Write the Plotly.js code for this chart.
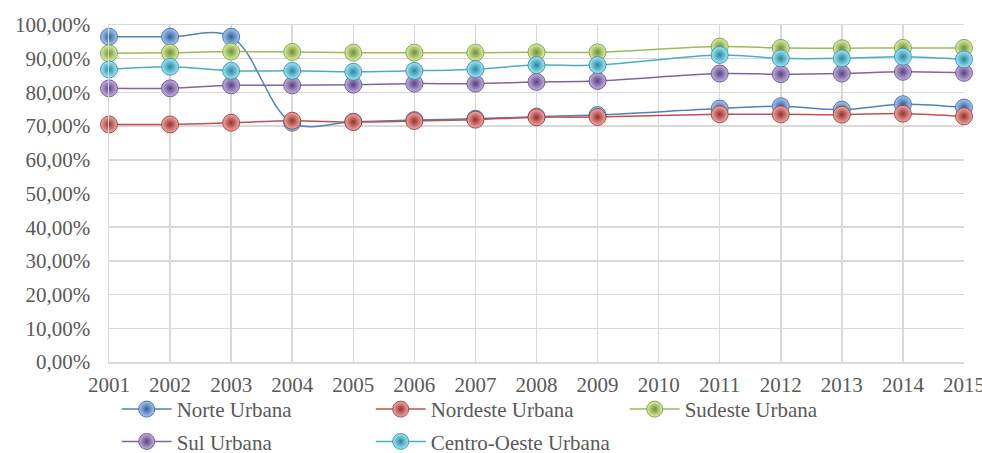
<!DOCTYPE html>
<html>
<head>
<meta charset="utf-8">
<script src="https://cdn.plot.ly/plotly-3.0.1.min.js"></script>
<style>html,body{margin:0;padding:0;background:#fff;}#chart{width:982px;height:453px;}</style>
</head>
<body>
<div id="chart"></div>
<script>
const years = [2001,2002,2003,2004,2005,2006,2007,2008,2009,2010,2011,2012,2013,2014,2015];
const norteUrbana      = [96.5,96.5,96.5,71.0,71.3,71.8,72.2,72.8,73.3,null,75.2,75.9,74.9,76.5,75.5];
const nordesteUrbana   = [70.5,70.5,71.0,71.6,71.2,71.5,71.9,72.6,72.7,null,73.5,73.5,73.4,73.7,72.9];
const sudesteUrbana    = [91.6,91.8,92.1,92.0,91.8,91.8,91.8,91.9,91.9,null,93.6,93.2,93.1,93.2,93.2];
const sulUrbana        = [81.2,81.2,82.1,82.1,82.3,82.6,82.6,83.1,83.4,null,85.6,85.4,85.6,86.1,85.8];
const centroOesteUrbana= [86.8,87.6,86.4,86.4,86.1,86.4,86.9,88.1,88.1,null,91.1,90.1,90.1,90.6,89.8];
const seriesNames = ['Norte Urbana','Nordeste Urbana','Sudeste Urbana','Sul Urbana','Centro-Oeste Urbana'];
const yTickVals = [0,10,20,30,40,50,60,70,80,90,100];
const yTickText = ['0,00%','10,00%','20,00%','30,00%','40,00%','50,00%','60,00%','70,00%','80,00%','90,00%','100,00%'];

const seriesData = [norteUrbana, nordesteUrbana, sudesteUrbana, sulUrbana, centroOesteUrbana];
const lineColors = ['#4f81bd','#c0504d','#9bbb59','#8064a2','#4bacc6'];
const lightColors = ['#a9c8f0','#f2aaa6','#dcf0a8','#c6b0e2','#a6e6f6'];
const darkColors = ['#2f5f9e','#952f2c','#6f9032','#58427f','#2388a3'];
const legendIds = ['legend','legend','legend','legend2','legend2'];

const traces = seriesData.map((vals, i) => ({
  type: 'scatter',
  mode: 'lines+markers',
  name: seriesNames[i],
  legend: legendIds[i],
  x: years,
  y: vals,
  connectgaps: true,
  cliponaxis: false,
  line: {color: lineColors[i], width: 1.5, shape: 'spline', smoothing: 1},
  marker: {
    size: 17,
    color: lightColors[i],
    gradient: {type: 'radial', color: darkColors[i]},
    line: {color: darkColors[i], width: 0.8}
  }
}));

const tickFont = {family: '"Liberation Serif", "Times New Roman", serif', size: 21, color: '#595959'};

const legendBase = {
  orientation: 'h',
  x: 0.009, xanchor: 'left',
  yanchor: 'top',
  font: tickFont,
  itemwidth: 50,
  entrywidth: 189, entrywidthmode: 'pixels',
  bgcolor: 'rgba(0,0,0,0)'
};

const layout = {
  width: 982, height: 453,
  margin: {l: 109, r: 18, t: 25, b: 91, autoexpand: false},
  paper_bgcolor: '#ffffff', plot_bgcolor: '#ffffff',
  showlegend: true,
  xaxis: {
    range: [2001, 2015],
    tickvals: years,
    ticktext: years.map(String),
    showgrid: true, gridcolor: '#d9d9d9', gridwidth: 1.5,
    showline: true, linecolor: '#d9d9d9', linewidth: 1.5,
    zeroline: false, ticks: '',
    tickfont: tickFont,
    ticklabeloverflow: 'allow',
    ticklabelstandoff: 3,
    mirror: true
  },
  yaxis: {
    range: [0, 100],
    tickvals: yTickVals,
    ticktext: yTickText,
    showgrid: true, gridcolor: '#d9d9d9', gridwidth: 1.5,
    showline: true, linecolor: '#d9d9d9', linewidth: 1.5,
    zeroline: false, ticks: '',
    tickfont: tickFont,
    ticklabelstandoff: 13
  },
  legend: Object.assign({}, legendBase, {y: -0.08}),
  legend2: Object.assign({}, legendBase, {y: -0.176})
};

Plotly.newPlot('chart', traces, layout, {displayModeBar: false, staticPlot: true});
</script>
</body>
</html>
